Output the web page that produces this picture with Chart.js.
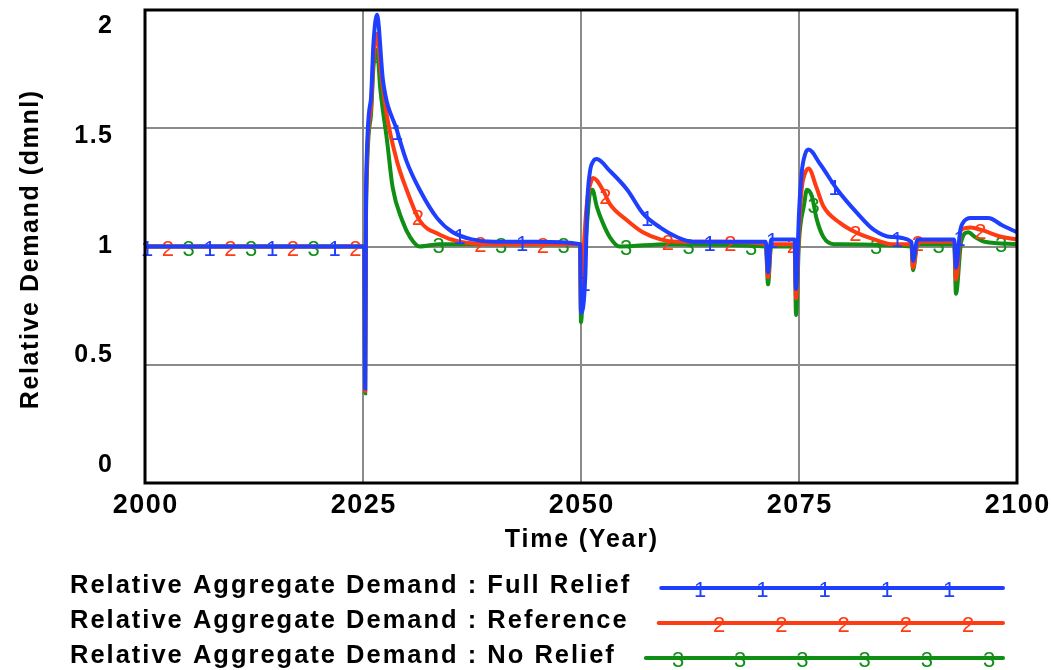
<!DOCTYPE html>
<html>
<head>
<meta charset="utf-8">
<script src="https://cdn.jsdelivr.net/npm/chart.js@4.4.1/dist/chart.umd.min.js"></script>
<style>
  html, body { margin: 0; padding: 0; background: #ffffff; }
  #wrap { width: 1051px; height: 670px; }
  canvas { display: block; }
</style>
</head>
<body>
<div id="wrap"><canvas id="chart" width="1051" height="670"></canvas></div>
<script>
// Relative aggregate demand (dmnl) over time, one run per relief policy.
const fullReliefYears = [2000, 2025.15, 2025.25, 2025.35, 2025.9, 2026.2, 2026.6, 2027.3, 2028.9, 2030.0,
  2031.5, 2033.5, 2035.3, 2037.5, 2040, 2045, 2049.9, 2050.0, 2050.5, 2050.7, 2051.0, 2051.4, 2051.8,
  2053.3, 2055.3, 2057.1, 2059.1, 2061.0, 2062.8, 2066, 2071.2, 2071.45, 2071.8, 2074.5, 2074.66,
  2075.0, 2075.3, 2075.7, 2076.1, 2077.4, 2079.4, 2081.7, 2083.6, 2085.6, 2087.9, 2088.07, 2088.6,
  2092.8, 2093.0, 2093.5, 2093.8, 2094.7, 2096.7, 2098.3, 2100];
const fullReliefValues = [1, 1, 0.40, 1.25, 1.62, 1.86, 1.98, 1.70, 1.49, 1.36,
  1.24, 1.12, 1.06, 1.03, 1.02, 1.02, 1.01, 0.72, 0.88, 1.17, 1.31, 1.36, 1.37,
  1.32, 1.24, 1.14, 1.08, 1.04, 1.02, 1.02, 1.02, 0.89, 1.03, 1.03, 0.82,
  1.14, 1.31, 1.39, 1.41, 1.35, 1.24, 1.14, 1.07, 1.04, 1.02, 0.94, 1.03,
  1.03, 0.91, 1.07, 1.10, 1.12, 1.12, 1.09, 1.06];

const referenceYears = [2000, 2025.15, 2025.25, 2025.35, 2025.9, 2026.2, 2026.6, 2027.0, 2027.75, 2028.9,
  2030.0, 2031.5, 2033.8, 2036.1, 2040, 2049.9, 2050.0, 2050.3, 2050.7, 2051.2, 2051.4, 2052.5,
  2053.3, 2055.3, 2057.1, 2059.1, 2061.0, 2066, 2071.2, 2071.45, 2071.8, 2074.5, 2074.66, 2075.0,
  2075.3, 2075.7, 2076.1, 2077.0, 2077.8, 2079.7, 2081.5, 2083.6, 2085.6, 2087.9, 2088.07, 2088.6,
  2092.8, 2093.0, 2093.6, 2094.7, 2095.9, 2098.3, 2100];
const referenceValues = [1, 1, 0.39, 1.20, 1.58, 1.80, 1.90, 1.76, 1.55, 1.36,
  1.24, 1.11, 1.05, 1.02, 1.01, 1.01, 0.72, 0.98, 1.19, 1.28, 1.29, 1.24,
  1.18, 1.11, 1.06, 1.03, 1.02, 1.02, 1.01, 0.87, 1.01, 1.01, 0.78, 1.07,
  1.24, 1.31, 1.33, 1.25, 1.17, 1.10, 1.06, 1.03, 1.01, 1.01, 0.91, 1.02,
  1.02, 0.86, 1.07, 1.08, 1.07, 1.04, 1.03];

const noReliefYears = [2000, 2025.15, 2025.25, 2025.35, 2025.9, 2026.2, 2026.6, 2027.0, 2027.75, 2028.4,
  2029.5, 2030.4, 2031.5, 2033.8, 2040, 2049.9, 2050.0, 2050.3, 2050.7, 2051.0, 2051.3, 2051.8,
  2052.5, 2053.3, 2054.4, 2060, 2071.2, 2071.45, 2071.8, 2074.5, 2074.66, 2075.0, 2075.6, 2075.9,
  2076.5, 2077.0, 2077.8, 2079.0, 2087.9, 2088.07, 2088.6, 2092.8, 2093.0, 2093.6, 2094.4, 2095.2,
  2096.3, 2100];
const noReliefValues = [1, 1, 0.38, 1.15, 1.55, 1.76, 1.83, 1.66, 1.45, 1.25,
  1.11, 1.04, 1.00, 1.01, 1.01, 1.01, 0.68, 0.89, 1.10, 1.22, 1.24, 1.17,
  1.10, 1.04, 1.00, 1.01, 1.00, 0.84, 1.00, 1.00, 0.71, 1.02, 1.18, 1.24,
  1.21, 1.12, 1.04, 1.01, 1.00, 0.90, 1.01, 1.01, 0.80, 1.02, 1.06, 1.04,
  1.02, 1.01];

const seriesNames = [
  'Relative Aggregate Demand : Full Relief',
  'Relative Aggregate Demand : Reference',
  'Relative Aggregate Demand : No Relief'
];
const seriesDigits = ['1', '2', '3'];
const xTicks = [2000, 2025, 2050, 2075, 2100];
const yTicks = [0, 0.5, 1, 1.5, 2];
const xTitle = 'Time (Year)';
const yTitle = 'Relative Demand (dmnl)';

// Styling
const COLORS = ['#1f3fff', '#ff3b14', '#0f8f14'];
const BOLD = '"Liberation Sans", Arial, Helvetica, sans-serif';
const DIGIT_FONT = '22px "Liberation Sans", Arial, sans-serif';
const LINE_W = 4;
const MARK_FIRST = 2, MARK_GAP = 20.8, MARK_STEP = 62.5, MARK_DROP = 3;

const runs = [
  { years: fullReliefYears, values: fullReliefValues },
  { years: referenceYears, values: referenceValues },
  { years: noReliefYears, values: noReliefValues }
];

function valueAt(years, values, t) {
  if (t <= years[0]) return values[0];
  for (let i = 1; i < years.length; i++) {
    if (t <= years[i]) {
      const f = (t - years[i - 1]) / (years[i] - years[i - 1]);
      return values[i - 1] + f * (values[i] - values[i - 1]);
    }
  }
  return values[values.length - 1];
}

function spacedText(ctx, text, x, y, font, align, spacing) {
  ctx.font = font;
  ctx.letterSpacing = spacing + 'px';
  ctx.textAlign = 'left';
  const w = ctx.measureText(text).width - spacing;
  let sx = x;
  if (align === 'center') sx = x - w / 2;
  else if (align === 'right') sx = x - w;
  ctx.fillText(text, sx, y);
  ctx.letterSpacing = '0px';
  return w;
}

const datasets = runs.map((r, i) => ({
  label: seriesNames[i],
  data: r.years.map((t, k) => ({ x: t, y: r.values[k] })),
  borderColor: COLORS[i],
  backgroundColor: COLORS[i],
  borderWidth: LINE_W,
  pointRadius: 0,
  fill: false,
  cubicInterpolationMode: 'monotone'
}));

// Number labels riding on each line, the frame, axis texts and the key.
const decor = {
  id: 'decor',
  afterDatasetDraw(chart, args) {
    const i = args.index;
    const { ctx, chartArea: a, scales: { x, y } } = chart;
    const r = runs[i];
    ctx.save();
    ctx.font = DIGIT_FONT;
    ctx.textAlign = 'center';
    ctx.textBaseline = 'middle';
    ctx.fillStyle = COLORS[i];
    for (let px = a.left + MARK_FIRST + i * MARK_GAP; px <= a.right; px += MARK_STEP) {
      const v = valueAt(r.years, r.values, x.getValueForPixel(px));
      ctx.fillText(seriesDigits[i], px, y.getPixelForValue(v) + MARK_DROP);
    }
    ctx.restore();
  },
  afterDraw(chart) {
    const { ctx, chartArea: a, scales: { x, y } } = chart;
    ctx.save();
    // plot frame
    ctx.strokeStyle = '#000';
    ctx.lineWidth = 3;
    ctx.strokeRect(a.left, a.top, a.width, a.height);

    ctx.fillStyle = '#000';
    ctx.textBaseline = 'alphabetic';
    // value-axis labels, spread evenly inside the frame height
    y.ticks.forEach(t => {
      const pix = y.getPixelForValue(t.value);
      const by = a.top + 23 + (pix - a.top) * (a.height - 34) / a.height;
      spacedText(ctx, String(t.value), a.left - 33, by, 'bold 25px ' + BOLD, 'right', 1.5);
    });
    // time-axis labels
    x.ticks.forEach(t => {
      spacedText(ctx, String(t.value), x.getPixelForValue(t.value), a.bottom + 30, 'bold 27px ' + BOLD, 'center', 1.5);
    });
    // axis titles
    spacedText(ctx, xTitle, (a.left + a.right) / 2, a.bottom + 64, 'bold 25px ' + BOLD, 'center', 1.8);
    ctx.save();
    ctx.translate(38, 250);
    ctx.rotate(-Math.PI / 2);
    spacedText(ctx, yTitle, 0, 0, 'bold 25px ' + BOLD, 'center', 1.6);
    ctx.restore();

    // key
    const rowBase = [593, 628, 663];
    const keyEnd = 1003;
    const lastMark = [54, 35, 14];
    runs.forEach((r, i) => {
      ctx.fillStyle = '#000';
      const w = spacedText(ctx, seriesNames[i], 70, rowBase[i], 'bold 25.5px ' + BOLD, 'left', 2);
      const ly = rowBase[i] - 5;
      const start = 70 + w + 32;
      ctx.strokeStyle = COLORS[i];
      ctx.lineWidth = LINE_W;
      ctx.lineCap = 'round';
      ctx.beginPath();
      ctx.moveTo(start, ly);
      ctx.lineTo(keyEnd, ly);
      ctx.stroke();
      ctx.font = DIGIT_FONT;
      ctx.textAlign = 'center';
      ctx.textBaseline = 'middle';
      ctx.fillStyle = COLORS[i];
      for (let px = keyEnd - lastMark[i]; px > start + 18; px -= 62.2) {
        ctx.fillText(seriesDigits[i], px, ly + MARK_DROP);
      }
      ctx.textBaseline = 'alphabetic';
    });
    ctx.restore();
  }
};

const gridColor = (c) => {
  const s = c.scale;
  if (!c.tick || c.tick.value === s.min || c.tick.value === s.max) return 'rgba(0,0,0,0)';
  return '#8a8a8a';
};

new Chart(document.getElementById('chart'), {
  type: 'line',
  data: { datasets },
  options: {
    responsive: false,
    animation: false,
    layout: { padding: { top: 10, right: 34, bottom: 0, left: 0 } },
    plugins: { legend: { display: false }, tooltip: { enabled: false } },
    scales: {
      x: {
        type: 'linear', min: 2000, max: 2100,
        afterBuildTicks: s => { s.ticks = xTicks.map(v => ({ value: v })); },
        afterFit: s => { s.height = 187; },
        ticks: { display: false },
        border: { display: false },
        grid: { color: gridColor, lineWidth: 2, drawTicks: false }
      },
      y: {
        type: 'linear', min: 0, max: 2,
        afterBuildTicks: s => { s.ticks = yTicks.map(v => ({ value: v })); },
        afterFit: s => { s.width = 145; },
        ticks: { display: false },
        border: { display: false },
        grid: { color: gridColor, lineWidth: 2, drawTicks: false }
      }
    }
  },
  plugins: [decor]
});
</script>
</body>
</html>
